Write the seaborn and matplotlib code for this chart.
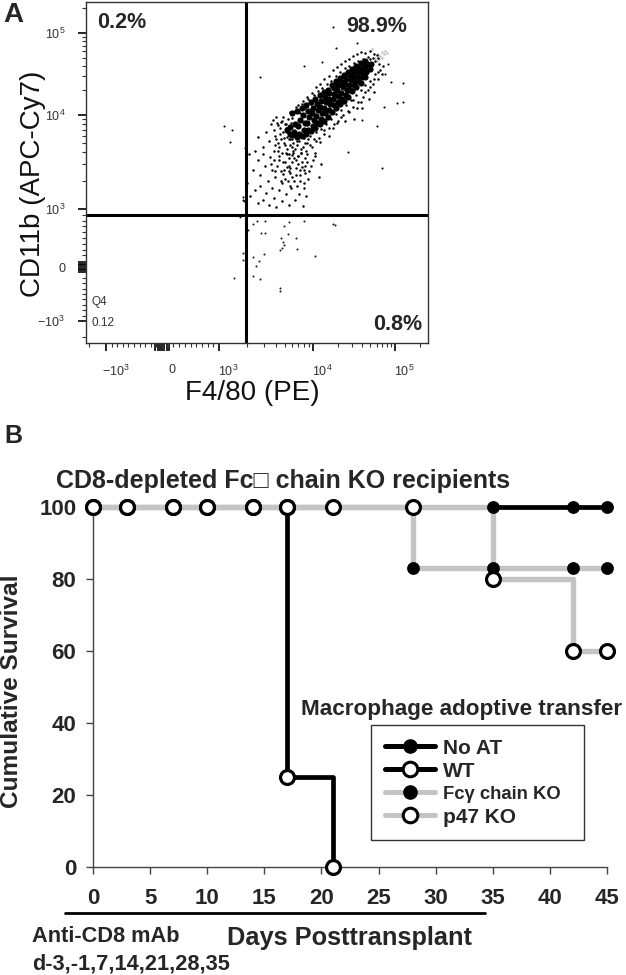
import numpy as np
import pandas as pd
import matplotlib
matplotlib.use('Agg')
import matplotlib.pyplot as plt
from matplotlib.lines import Line2D
from matplotlib.transforms import ScaledTranslation
import seaborn as sns

# panel A - dense core of the flow plot, log10 intensities
core_x = [3.80,3.81,3.85,3.84,3.86,3.90,3.91,3.89,3.95,3.94,3.96,3.95,4.00,4.01,3.99,4.00,
          4.05,4.04,4.06,4.05,4.10,4.11,4.09,4.10,4.15,4.14,4.16,4.15,4.20,4.21,4.19,4.20,
          4.25,4.24,4.26,4.25,4.30,4.31,4.29,4.30,4.35,4.34,4.36,4.35,4.40,4.41,4.39,4.40,
          4.45,4.44,4.46,4.45,4.50,4.51,4.49,4.50,4.55,4.54,4.56,4.55,4.60,4.61,4.59,
          4.65,4.64,4.66,4.70,4.71,3.75,3.76,3.72,
          3.78,3.83,3.88,3.93,3.98,4.03,4.08,4.13,4.18,4.23,4.28,4.33,4.38,4.43,4.48,4.53,4.58,4.63,
          3.78,3.83,3.88,3.93,3.98,4.03,4.08,4.13,4.18,4.23,4.28,4.33,4.38,4.43,4.48,4.53,4.58,4.63]
core_y = [3.82,3.90,3.80,3.88,3.95,3.84,3.92,4.00,3.84,3.91,3.98,4.05,3.88,3.95,4.02,4.09,
          3.92,3.99,4.06,4.13,3.96,4.03,4.10,4.17,4.02,4.09,4.16,4.22,4.06,4.13,4.20,4.27,
          4.12,4.19,4.26,4.33,4.16,4.23,4.30,4.36,4.20,4.27,4.34,4.40,4.24,4.31,4.38,4.44,
          4.30,4.37,4.43,4.49,4.36,4.42,4.48,4.53,4.41,4.46,4.52,4.57,4.46,4.51,4.56,
          4.52,4.58,4.62,4.56,4.62,3.80,3.87,3.84,
          4.02,4.05,4.08,4.12,4.16,4.20,4.24,4.28,4.31,4.37,4.41,4.45,4.49,4.53,4.56,4.60,4.63,4.66,
          3.79,3.77,3.78,3.80,3.83,3.86,3.90,3.94,3.98,4.04,4.08,4.13,4.17,4.22,4.29,4.34,4.39,4.46]

# scattered dots around the core and in the lower lobe
halo_x = [3.62,3.68,3.71,3.75,3.78,3.82,3.86,3.88,3.92,3.95,
          3.98,4.01,4.03,4.06,4.09,4.11,4.14,4.17,4.19,4.22,
          4.25,4.28,4.31,4.33,4.36,4.39,4.41,4.44,4.47,4.50,
          4.52,4.55,4.58,4.61,4.64,4.67,4.70,4.73,4.76,4.79,
          3.70,3.74,3.78,3.83,3.87,3.90,3.94,3.97,4.01,4.04,
          4.07,4.10,4.13,4.16,4.19,4.22,4.25,4.28,4.31,4.34,
          4.37,4.40,4.43,4.46,4.49,4.52,4.55,4.58,4.61,4.64,
          4.67,4.70,4.73,4.76,4.79,4.82,4.85,4.68,4.74,4.80,
          3.42,3.47,3.50,3.53,3.55,3.58,3.60,3.63,3.65,3.67,
          3.69,3.72,3.74,3.76,3.79,3.81,3.84,3.57,3.61,3.66,
          3.32,3.36,3.38,3.41,3.44,3.47,3.49,3.52,3.54,3.56,
          3.58,3.60,3.62,3.64,3.66,3.68,3.70,3.72,3.74,3.76,
          3.78,3.80,3.82,3.84,3.86,3.88,3.90,3.92,3.94,3.96,
          3.63,3.67,3.71,3.75,3.79,3.83,3.87,3.91,3.95,4.00,
          4.03,4.07,4.10,3.74,3.78,3.82,3.86,3.90,3.69,3.73,
          3.30,3.33,3.38,3.41,3.44,3.47,3.50,3.53,3.56,3.58,
          3.61,3.64,3.67,3.71,3.74,3.77,3.81,3.85,3.89,3.93,
          3.58,3.61,3.63,3.65,3.67,3.69,3.71,3.73,3.75,3.77,
          3.60,3.64,3.68,3.70,3.72,3.74,3.76,3.78,3.72,3.66,
          3.79,3.81,3.83,3.85,3.87,3.89,3.91,3.93,3.95,3.97,
          3.84,3.89,3.94,3.99,4.04,4.09,4.14,4.19,4.24,4.29,
          4.34,4.39,4.44,4.49,4.54,4.59,4.64,4.69,4.74,4.78,
          3.99,4.04,4.09,4.14,4.19,4.24,4.29,4.34,4.39,4.44,
          4.49,4.54,4.59,4.64,4.69,4.74,4.79,4.84,4.50,4.60,
          3.55,3.60,3.64,3.68,3.72,3.76,3.80,3.84,3.88,3.92,
          3.66,3.70,3.74,3.78,3.82,3.86,3.90,3.94,3.98,4.02]
halo_y = [3.92,3.98,3.90,4.04,3.97,4.10,4.02,4.14,4.08,4.19,
          4.13,4.24,4.18,4.29,4.22,4.33,4.28,4.38,4.30,4.41,
          4.38,4.47,4.42,4.52,4.46,4.57,4.50,4.60,4.55,4.63,
          4.58,4.66,4.61,4.68,4.66,4.71,4.68,4.70,4.66,4.69,
          3.68,3.74,3.66,3.72,3.64,3.76,3.70,3.78,3.74,3.82,
          3.76,3.85,3.80,3.90,3.86,3.96,3.90,4.01,3.94,4.06,
          4.00,4.12,4.05,4.18,4.10,4.24,4.16,4.30,4.22,4.36,
          4.30,4.42,4.38,4.50,4.44,4.55,4.60,4.20,4.28,4.62,
          3.77,3.66,3.82,3.72,3.90,3.62,3.78,3.70,3.86,3.60,
          3.76,3.82,3.58,3.88,3.62,3.78,3.56,3.95,3.98,3.93,
          3.58,3.42,3.62,3.52,3.36,3.58,3.46,3.30,3.55,3.42,
          3.52,3.34,3.46,3.56,3.40,3.50,3.32,3.45,3.54,3.38,
          3.50,3.30,3.44,3.56,3.36,3.50,3.28,3.46,3.58,3.40,
          3.62,3.28,3.60,3.25,3.60,3.24,3.60,3.38,3.32,3.52,
          3.60,3.34,3.48,3.46,3.34,3.36,3.42,3.22,3.42,3.30,
          3.28,3.14,3.20,3.06,3.24,3.10,3.17,3.04,3.22,3.12,
          3.02,3.20,3.08,3.16,3.04,3.22,3.10,3.16,3.03,3.14,
          3.84,3.74,3.89,3.80,3.94,3.70,3.86,3.96,3.74,3.92,
          3.68,3.66,3.82,3.90,3.77,3.85,3.68,3.74,3.64,3.74,
          3.70,3.64,3.68,3.72,3.60,3.66,3.70,3.62,3.74,3.68,
          4.12,4.17,4.22,4.27,4.34,4.38,4.44,4.47,4.55,4.58,
          4.62,4.66,4.68,4.72,4.74,4.77,4.76,4.78,4.74,4.73,
          3.66,3.72,3.71,3.84,3.78,3.86,3.92,3.98,3.94,4.04,
          4.18,4.08,4.16,4.28,4.34,4.44,4.52,4.50,3.96,4.08,
          3.48,3.40,3.52,3.37,3.58,3.44,3.54,3.48,3.45,3.54,
          3.30,3.50,3.40,3.57,3.52,3.30,3.42,3.50,3.46,3.56]

# outliers in the upper half
stray_x = [4.24,4.54,4.28,4.11,3.90,3.44,5.10,5.02,5.10,4.78,4.84,4.43,
           3.05,3.14,3.12,3.29,3.29,3.28,3.26,3.27,3.26,4.88,4.92,4.95,4.60,4.86]
stray_y = [5.07,4.88,4.82,4.65,4.60,4.46,4.39,4.15,4.16,3.88,3.44,3.61,
           3.88,3.84,3.71,3.87,3.78,3.65,3.13,3.08,3.10,4.50,4.62,4.40,3.95,4.10]

# faint grey dots at the top of the cloud
grey_x = [4.76,4.79,4.82,4.84,4.86,4.88,4.90,4.80,4.84,4.72,4.78]
grey_y = [4.70,4.75,4.72,4.77,4.74,4.78,4.76,4.68,4.70,4.80,4.66]

# dots under the horizontal gate, raw intensities
low_x = [1670,2300,2520,3100,4900,5500,8000,17500,18500,2040,2800,3100,5400,4600,6600,
         4800,4900,4700,4450,6800,1800,3000,2300,1800,2670,10500,2480,2300,2730,1450,4450,4450]
low_y = [860,740,790,790,705,775,790,740,720,635,585,585,570,500,500,430,380,325,290,310,
         240,225,170,120,105,190,15,-170,-225,-205,-380,-445]

# panel B - survival curves
days_no_at = [0, 3, 7, 10, 14, 17, 21, 28, 35, 42, 45]
surv_no_at = [100, 100, 100, 100, 100, 100, 100, 100, 100, 100, 100]
days_wt = [0, 3, 7, 10, 14, 17, 17, 21]
surv_wt = [100, 100, 100, 100, 100, 100, 25, 0]
days_fc = [0, 3, 7, 10, 14, 17, 21, 28, 28, 35, 42, 45]
surv_fc = [100, 100, 100, 100, 100, 100, 100, 100, 83, 83, 83, 83]
days_p47 = [0, 3, 7, 10, 14, 17, 21, 28, 35, 42, 45]
surv_p47 = [100, 100, 100, 100, 100, 100, 100, 100, 80, 60, 60]

sns.set_style('white')
plt.rcParams['font.family'] = ['Liberation Sans', 'DejaVu Sans']
plt.rcParams['axes.unicode_minus'] = False

W, H = 626, 975
fig = plt.figure(figsize=(W / 100, H / 100), dpi=100)


def box(left, top, right, bottom):
    return [left / W, 1 - bottom / H, (right - left) / W, (bottom - top) / H]


def put(x, y, s, **kw):
    return fig.text(x / W, 1 - y / H, s, **kw)


def biex_scale(pos):
    # tick spacing of the cytometer axis is uneven, so go through a lookup
    ts = np.array([-2, -1, 0, 1, 2, 3, 4], dtype=float)
    pos = np.array(pos, dtype=float)

    def fwd(v):
        v = np.asarray(v, dtype=float)
        a = np.maximum(np.abs(v), 1e-9)
        t = np.where(a <= 1000, v / 1000, np.sign(v) * (1 + np.log10(a / 1000)))
        return np.interp(t, ts, pos)

    def inv(p):
        t = np.interp(p, pos, ts)
        a = np.abs(t)
        return np.where(a <= 1, t * 1000, np.sign(t) * 1000 * 10 ** (a - 1))

    return fwd, inv


# ---- panel A
axA = fig.add_axes(box(86, 2, 428, 343))
fx, ix = biex_scale([50, 106, 162, 219, 313, 395, 477])
fy, iy = biex_scale([-32, 22, 76, 134, 228, 310, 392])
axA.set_xscale('function', functions=(fx, ix))
axA.set_yscale('function', functions=(fy, iy))

core = pd.DataFrame({'x': 10 ** np.array(core_x), 'y': 10 ** np.array(core_y)})
halo = pd.DataFrame({'x': 10 ** np.array(halo_x), 'y': 10 ** np.array(halo_y)})
stray = pd.DataFrame({'x': 10 ** np.array(stray_x), 'y': 10 ** np.array(stray_y)})
grey = pd.DataFrame({'x': 10 ** np.array(grey_x), 'y': 10 ** np.array(grey_y)})
low = pd.DataFrame({'x': low_x, 'y': low_y})

sns.scatterplot(data=grey, x='x', y='y', s=3, color='#bdbdbd', linewidth=0, ax=axA)
sns.scatterplot(data=core, x='x', y='y', s=20, color='black', linewidth=0, ax=axA)
sns.scatterplot(data=halo, x='x', y='y', s=3.2, color='black', linewidth=0, ax=axA)
sns.scatterplot(data=stray, x='x', y='y', s=2.2, color='black', linewidth=0, ax=axA)
sns.scatterplot(data=low, x='x', y='y', s=2.2, color='#222222', linewidth=0, ax=axA)

axA.set_xlim(float(ix(86)), float(ix(428)))
axA.set_ylim(float(iy(0)), float(iy(341)))
axA.axvline(1940, color='black', lw=2.2)
axA.axhline(900, color='black', lw=2.2)

for s in axA.spines.values():
    s.set_linewidth(1.0)
    s.set_color('#333333')

x_major = [-1000, -120, -80, -40, 0, 40, 80, 120, 1000, 10000, 100000]
x_lab = [r'$\mathregular{-10^{3}}$', '', '', '', '0', '', '', '',
         r'$\mathregular{10^{3}}$', r'$\mathregular{10^{4}}$', r'$\mathregular{10^{5}}$']
y_major = [-1000, -90, -60, -30, 0, 30, 60, 90, 1000, 10000, 100000]
y_lab = x_lab
minor = [m * 100 for m in range(-9, 10) if m != 0]
minor += [m * 10 ** e for e in (3, 4) for m in range(2, 10)]
minor += [-2000, 200000]
axA.set_xticks(x_major, x_lab, fontsize=9, color='#333333')
axA.set_yticks(y_major, y_lab, fontsize=9, color='#333333')
axA.set_xticks(minor, minor=True)
axA.set_yticks(minor, minor=True)
axA.tick_params(axis='both', which='major', length=6, width=1.2, color='black', bottom=True, left=True, pad=9)
axA.tick_params(axis='both', which='minor', length=3.2, width=0.8, color='#333333', bottom=True, left=True)
axA.set_xlabel('')
axA.set_ylabel('')
for lab in axA.get_xticklabels():
    lab.set_transform(lab.get_transform() + ScaledTranslation(7 / 72, 0, fig.dpi_scale_trans))

put(33, 184, 'CD11b (APC-Cy7)', fontsize=20, rotation=90, ha='center', va='center', color='#111111')
put(252, 393, 'F4/80 (PE)', fontsize=20, ha='center', va='center', color='#111111')
put(13, 15, 'A', fontsize=20, fontweight='bold', ha='center', va='center')
put(97, 23, '0.2%', fontsize=15.5, fontweight='bold', va='center')
put(346, 27, '98.9%', fontsize=15.5, fontweight='bold', va='center')
put(373, 324, '0.8%', fontsize=15.5, fontweight='bold', va='center')
put(91, 302, 'Q4', fontsize=8.5, va='center', color='#333333')
put(91, 323, '0.12', fontsize=8.5, va='center', color='#333333')

# ---- panel B
axB = fig.add_axes(box(93, 507, 607, 867))
black, light = 'black', '#c4c4c4'
curves = [(days_no_at, surv_no_at, black, 3.4), (days_wt, surv_wt, black, 3.4),
          (days_fc, surv_fc, light, 3.9), (days_p47, surv_p47, light, 3.9)]
for d, s, c, w in curves:
    sns.lineplot(x=d, y=s, color=c, lw=w, sort=False, estimator=None,
                 drawstyle='steps-post', ax=axB, zorder=2, clip_on=False)

sns.scatterplot(x=days_fc, y=surv_fc, color='black', s=85, linewidth=0, ax=axB, zorder=3, clip_on=False)
sns.scatterplot(x=days_no_at, y=surv_no_at, color='black', s=85, linewidth=0, ax=axB, zorder=3, clip_on=False)
for d, s in [(days_wt, surv_wt), (days_p47, surv_p47)]:
    sns.scatterplot(x=d, y=s, color='white', edgecolor='black', s=100, linewidth=2.3,
                    ax=axB, zorder=4, clip_on=False)

axB.set_xlim(0, 45)
axB.set_ylim(0, 100)
axB.set_xticks(range(0, 50, 5))
axB.set_yticks(range(0, 120, 20))
axB.tick_params(axis='both', length=5, width=1, color='#444444', bottom=True, left=True, labelsize=16, pad=6)
for lab in axB.get_xticklabels() + axB.get_yticklabels():
    lab.set_fontweight('bold')
axB.tick_params(axis='y', pad=7)
axB.tick_params(axis='x', pad=10)
for name, s in axB.spines.items():
    s.set_visible(name in ('left', 'bottom'))
    s.set_color('#444444')
    s.set_linewidth(1)

handles = [
    Line2D([], [], color=black, lw=3.6, marker='o', ms=9.5, mfc='black', mec='black'),
    Line2D([], [], color=black, lw=3.6, marker='o', ms=10.5, mfc='white', mec='black', mew=2.2),
    Line2D([], [], color=light, lw=3.6, marker='o', ms=9.5, mfc='black', mec='black'),
    Line2D([], [], color=light, lw=3.6, marker='o', ms=10.5, mfc='white', mec='black', mew=2.2),
]
leg = axB.legend(handles, ['No AT', 'WT', 'Fc\u03b3 chain KO  ', 'p47 KO'],
                 loc='upper left', bbox_to_anchor=(371 / W, 1 - 725 / H), bbox_transform=fig.transFigure,
                 frameon=True, fancybox=False, framealpha=1, edgecolor='#333333',
                 prop={'weight': 'bold', 'size': 15}, handlelength=2.4, handletextpad=0.4,
                 labelspacing=0.2, borderpad=0.65, borderaxespad=0)
leg.get_frame().set_linewidth(1)
leg.get_texts()[2].set_fontsize(13.3)

put(13, 436, 'B', fontsize=18, fontweight='bold', ha='center', va='center')
put(56, 481, 'CD8-depleted Fc\u25a1 chain KO recipients', fontsize=18, fontweight='bold', va='center')
put(12, 691, 'Cumulative Survival', fontsize=17.6, fontweight='bold', rotation=90, ha='center', va='center')
put(301, 709, 'Macrophage adoptive transfer', fontsize=16.2, fontweight='bold', va='center')
put(227, 938, 'Days Posttransplant', fontsize=18.3, fontweight='bold', va='center')
put(32, 937, 'Anti-CD8 mAb', fontsize=15.7, fontweight='bold', va='center')
put(32, 964, 'd-3,-1,7,14,21,28,35', fontsize=15.7, fontweight='bold', va='center')
fig.add_artist(Line2D([65 / W, 485 / W], [1 - 913 / H, 1 - 913 / H], color='black', lw=2))

fig.savefig('out.png', dpi=100)
